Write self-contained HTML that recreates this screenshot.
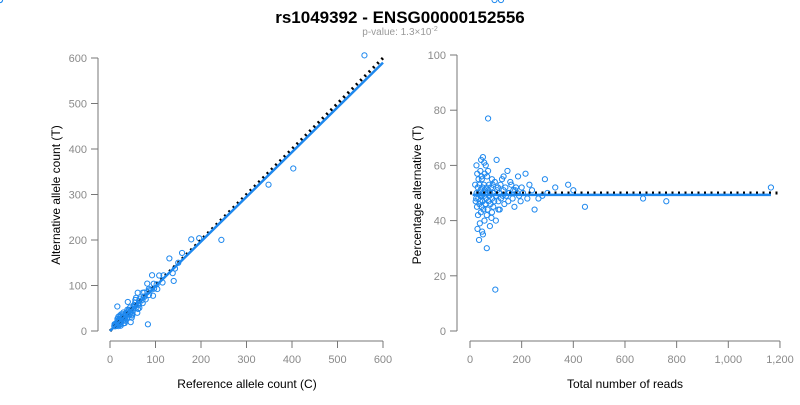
<!DOCTYPE html>
<html><head><meta charset="utf-8"><style>
body{margin:0;background:#fff;font-family:"Liberation Sans",Arial,sans-serif}
</style></head><body>
<svg id="c" width="800" height="400" xmlns="http://www.w3.org/2000/svg" font-family="Liberation Sans, Arial, sans-serif">
<text x="400" y="23" text-anchor="middle" font-size="17" font-weight="bold" fill="#000">rs1049392 - ENSG00000152556</text>
<text x="400" y="35" text-anchor="middle" font-size="10" fill="#999">p-value: 1.3×10<tspan dy="-4" font-size="7">-2</tspan></text>
<g id="left"></g>
<g id="right"></g>
<text transform="translate(60,195) rotate(-90)" text-anchor="middle" font-size="12" fill="#000">Alternative allele count (T)</text>
<text x="247" y="388" text-anchor="middle" font-size="12" fill="#000">Reference allele count (C)</text>
<text transform="translate(421,195) rotate(-90)" text-anchor="middle" font-size="12" fill="#000">Percentage alternative (T)</text>
<text x="625" y="388" text-anchor="middle" font-size="12" fill="#000">Total number of reads</text>
</svg>
<script>
const totals=[1165,760,670,445,400,380,330,300,290,280,265,250,240,230,222,215,205,200,196,190,186,182,178,172,168,165,160,156,152,148,145,140,137,133,130,127,124,120,118,115,112,110,108,105,103,100,98,96,94,92,90,88,86,85,83,82,80,78,77,75,74,72,71,70,68,67,66,65,64,62,61,60,58,57,56,55,54,52,51,50,49,48,47,46,45,44,43,42,41,40,39,38,37,36,35,34,33,32,31,30,29,28,27,26,25,24,22,20,90,110,60,70,50,40,100,130,85,65,55,45,150,175,120,95];
const pcts=[52,47,48,45,51,53,52,50,55,49,48,44,51,53,48,57,50,52,47,49,56,50,52,45,51,48,53,54,50,47,58,49,52,46,51,49,55,48,53,44,50,47,52,51,62,49,15,54,47,50,45,53,48,55,41,52,46,50,38,49,53,47,51,58,44,50,56,42,52,48,60,46,51,57,40,49,53,44,50,63,47,52,36,55,45,49,62,43,51,58,47,39,53,46,33,50,55,48,42,52,37,57,45,50,60,48,47,53,50,44,46,77,35,49,40,56,43,30,61,56,50,51];
const ns="http://www.w3.org/2000/svg";
function el(p,t,a){const e=document.createElementNS(ns,t);for(const k in a)e.setAttribute(k,a[k]);p.appendChild(e);return e;}
const grey="#777",tgrey="#8a8a8a";
// left scales
const lx=v=>110+v*0.455, ly=v=>331-v*0.455;
// right scales
const rx=v=>470+v*0.2583, ry=v=>331-v*2.76;
const L=document.getElementById('left'),R=document.getElementById('right');
const lxt=[0,100,200,300,400,500,600], lyt=[0,100,200,300,400,500,600];
const rxt=[0,200,400,600,800,1000,1200], rxl=["0","200","400","600","800","1,000","1,200"], ryt=[0,20,40,60,80,100];
function axes(g,xs,xt,xl,ys,yt,xAxisY,yAxisX){
 let a=el(g,'line',{x1:xs(xt[0]),x2:xs(xt[xt.length-1]),y1:xAxisY,y2:xAxisY,stroke:grey});
 
 xt.forEach((v,i)=>{el(g,'line',{x1:xs(v),x2:xs(v),y1:xAxisY,y2:xAxisY+7,stroke:grey});
  const t=el(g,'text',{x:xs(v),y:xAxisY+22,'text-anchor':'middle','font-size':11,fill:tgrey});t.textContent=xl[i];
  });
 let b=el(g,'line',{x1:yAxisX,x2:yAxisX,y1:ys(yt[0]),y2:ys(yt[yt.length-1]),stroke:grey});
 
 yt.forEach(v=>{el(g,'line',{x1:yAxisX-7,x2:yAxisX,y1:ys(v),y2:ys(v),stroke:grey});
  const t=el(g,'text',{x:yAxisX-11,y:ys(v)+4,'text-anchor':'end','font-size':11,fill:tgrey});t.textContent=v;
  });
}
axes(L,lx,lxt,lxt.map(String),ly,lyt,341,98);
axes(R,rx,rxt,rxl,ry,ryt,341,457);
// points
totals.forEach((t,i)=>{
 const p=pcts[i],alt=t*p/100,ref=t-alt;
 let c=el(L,'circle',{cx:lx(ref),cy:ly(alt),r:2.6,fill:'none',stroke:'#1e88ee','stroke-width':1});
 
 let d=el(R,'circle',{cx:rx(t),cy:ry(p),r:2.6,fill:'none',stroke:'#1e88ee','stroke-width':1});
 
});
// lines
const lslope=[0.983], rfit=[49.3], expected=[50];
let l1=el(L,'line',{x1:lx(0),y1:ly(0),x2:lx(600),y2:ly(600),stroke:'#000','stroke-width':3,'stroke-dasharray':'2,4'});

let l2=el(L,'line',{x1:lx(0),y1:ly(0),x2:lx(600),y2:ly(600*lslope[0]),stroke:'#1e88ee','stroke-width':2.5});

let r1=el(R,'line',{x1:rx(0),y1:ry(expected[0]),x2:rx(1200),y2:ry(expected[0]),stroke:'#000','stroke-width':3,'stroke-dasharray':'2,4.5'});

let r2=el(R,'line',{x1:rx(10),y1:ry(rfit[0]),x2:rx(1165),y2:ry(rfit[0]),stroke:'#1e88ee','stroke-width':2.5});

</script>
</body></html>
